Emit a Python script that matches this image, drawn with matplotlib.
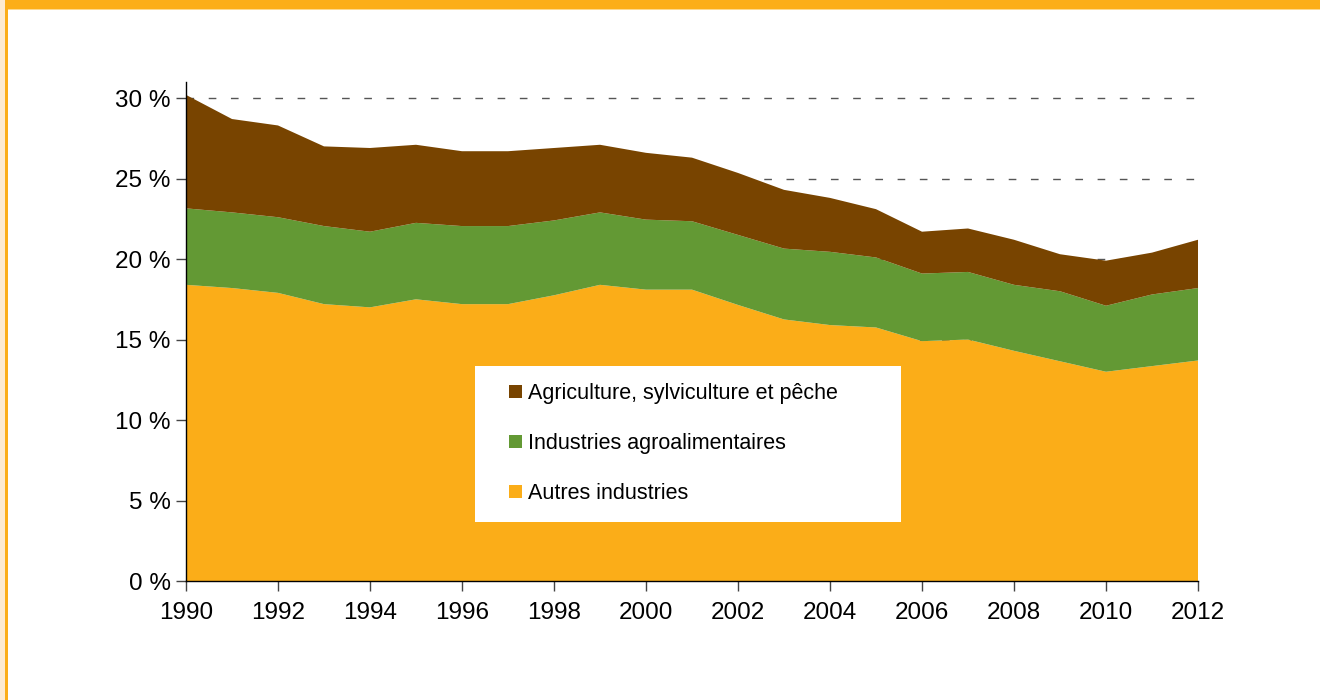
import matplotlib
matplotlib.use("Agg")
import matplotlib.pyplot as plt
from matplotlib.patches import Patch, Rectangle

years = [1990, 1991, 1992, 1993, 1994, 1995, 1996, 1997, 1998, 1999, 2000, 2001,
         2002, 2003, 2004, 2005, 2006, 2007, 2008, 2009, 2010, 2011, 2012]

# parts in % (stacked from bottom: autres, agro, agri)
autres = [18.4, 18.2, 17.9, 17.2, 17.0, 17.5, 17.2, 17.2, 17.75, 18.4, 18.1, 18.1,
          17.15, 16.25, 15.9, 15.75, 14.9, 15.0, 14.3, 13.65, 13.0, 13.35, 13.7]
agro = [4.75, 4.7, 4.7, 4.85, 4.7, 4.75, 4.85, 4.85, 4.65, 4.5, 4.35, 4.25,
        4.35, 4.4, 4.55, 4.35, 4.2, 4.2, 4.1, 4.35, 4.1, 4.45, 4.5]
agri = [7.05, 5.8, 5.7, 4.95, 5.2, 4.85, 4.65, 4.65, 4.5, 4.2, 4.15, 3.95,
        3.85, 3.65, 3.35, 3.0, 2.6, 2.7, 2.8, 2.3, 2.8, 2.6, 3.0]

labels = ["Autres industries", "Industries agroalimentaires",
          "Agriculture, sylviculture et pêche"]
colors = ["#FBAD18", "#639934", "#784400"]

yticks = [0, 5, 10, 15, 20, 25, 30]
xticks = [1990, 1992, 1994, 1996, 1998, 2000, 2002, 2004, 2006, 2008, 2010, 2012]

plt.rcParams['font.family'] = ['Liberation Sans', 'DejaVu Sans']

fig = plt.figure(figsize=(13.2, 7), dpi=100)
ax = fig.add_axes([186 / 1320, 1 - 581 / 700, 1012 / 1320, (581 - 82) / 700])

ax.stackplot(years, autres, agro, agri, colors=colors, linewidth=0)

ax.set_xlim(1990, 2012)
ax.set_ylim(0, 31)
ax.set_yticks(yticks)
ax.set_yticklabels([f"{v} %" for v in yticks])
ax.set_xticks(xticks)
ax.set_xticklabels([str(v) for v in xticks])

ax.set_axisbelow(True)
ax.yaxis.grid(True, color="#555555", linewidth=1.0, linestyle=(0, (5.5, 10.5)))

for s in ["top", "right"]:
    ax.spines[s].set_visible(False)
for s in ["left", "bottom"]:
    ax.spines[s].set_color("black")
    ax.spines[s].set_linewidth(1.0)
    ax.spines[s].set_zorder(3)

ax.tick_params(axis="y", direction="out", length=7, width=1, color="#444444",
               labelsize=17.5, pad=4)
ax.tick_params(axis="x", direction="out", length=7, width=1, color="#444444",
               labelsize=17.5, pad=8)

# white legend box
fig.patches.append(Rectangle((475 / 1320, 1 - 522 / 700), 426 / 1320, 156 / 700,
                             transform=fig.transFigure, facecolor="white",
                             edgecolor="none", zorder=5))
handles = [Patch(facecolor=colors[i], edgecolor="none") for i in (2, 1, 0)]
leg = fig.legend(handles, [labels[i] for i in (2, 1, 0)], loc="upper left",
                 bbox_to_anchor=(509 / 1320, 1 - 383 / 700), frameon=False,
                 fontsize=15.5, handlelength=0.6, handleheight=0.6,
                 handletextpad=0.3, labelspacing=1.35, borderpad=0,
                 borderaxespad=0)
leg.set_zorder(6)

# orange frame (top band and left edge)
fig.patches.append(Rectangle((0, 1 - 9 / 700), 1, 9 / 700, transform=fig.transFigure,
                             facecolor="#FCAE18", edgecolor="none"))
fig.patches.append(Rectangle((0, 1 - 10 / 700), 1, 1 / 700, transform=fig.transFigure,
                             facecolor="#FDD98F", edgecolor="none"))
fig.patches.append(Rectangle((0, 0), 5 / 1320, 1, transform=fig.transFigure,
                             facecolor="#FDEBD0", edgecolor="none"))
fig.patches.append(Rectangle((5 / 1320, 0), 3 / 1320, 1, transform=fig.transFigure,
                             facecolor="#FCAE18", edgecolor="none"))

fig.savefig("out.png", dpi=100)
